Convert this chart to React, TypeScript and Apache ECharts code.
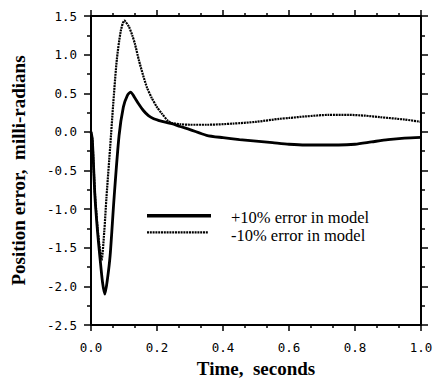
import React, { useEffect, useRef } from "react";
import * as echarts from "echarts";

const seriesNames = ["+10% error in model", "-10% error in model"];

const timesPlus = [0, 0.004, 0.012, 0.02, 0.027, 0.035, 0.042, 0.05, 0.058, 0.07, 0.085, 0.098, 0.11, 0.12, 0.13, 0.143, 0.158, 0.174, 0.19, 0.204, 0.225, 0.245, 0.27, 0.3, 0.35, 0.4, 0.45, 0.5, 0.55, 0.6, 0.65, 0.7, 0.75, 0.8, 0.85, 0.9, 0.95, 1.0];
const valuesPlus = [0, -0.1, -0.84, -1.3, -1.62, -1.95, -2.1, -1.9, -1.6, -0.85, -0.05, 0.32, 0.47, 0.515, 0.46, 0.37, 0.28, 0.21, 0.17, 0.15, 0.125, 0.107, 0.07, 0.03, -0.044, -0.075, -0.1, -0.12, -0.14, -0.16, -0.17, -0.17, -0.17, -0.16, -0.13, -0.1, -0.08, -0.07];

const timesMinus = [0, 0.004, 0.012, 0.02, 0.025, 0.032, 0.04, 0.047, 0.058, 0.068, 0.078, 0.09, 0.101, 0.115, 0.125, 0.133, 0.145, 0.158, 0.17, 0.184, 0.2, 0.214, 0.234, 0.245, 0.27, 0.3, 0.35, 0.43, 0.5, 0.573, 0.6, 0.65, 0.72, 0.78, 0.83, 0.876, 0.95, 1.0];
const valuesMinus = [0, -0.1, -0.8, -1.25, -1.45, -1.66, -1.3, -0.84, -0.2, 0.4, 0.925, 1.3, 1.44, 1.36, 1.25, 1.14, 0.93, 0.73, 0.57, 0.44, 0.32, 0.24, 0.14, 0.115, 0.1, 0.092, 0.092, 0.107, 0.13, 0.17, 0.18, 0.2, 0.22, 0.22, 0.21, 0.19, 0.16, 0.13];

const xTitle = "Time,  seconds";
const yTitle = "Position error,  milli-radians";

const serif = "'Liberation Serif', 'Times New Roman', serif";
const mono = "'DejaVu Sans Mono', 'Liberation Mono', monospace";

function zip(ts: number[], vs: number[]) {
  return ts.map((t, i) => [t, vs[i]]);
}

export default function App() {
  const ref = useRef<HTMLDivElement>(null);
  useEffect(() => {
    if (!ref.current) return;
    const chart = echarts.init(ref.current, undefined, { renderer: "svg" });
    const axisLine = { show: true, onZero: false, lineStyle: { color: "#000", width: 2 } };
    const tickStyle = { color: "#000", width: 1.5 };
    const xCommon = {
      type: "value" as const,
      min: 0,
      max: 1,
      interval: 0.2,
      axisLine,
      axisTick: { show: true, inside: false, length: 6, lineStyle: tickStyle },
      minorTick: { show: true, splitNumber: 3, length: 3, lineStyle: tickStyle },
      splitLine: { show: false },
    };
    const yCommon = {
      type: "value" as const,
      min: -2.5,
      max: 1.5,
      interval: 0.5,
      axisLine,
      axisTick: { show: true, inside: false, length: 7, lineStyle: tickStyle },
      minorTick: { show: true, splitNumber: 2, length: 4, lineStyle: tickStyle },
      splitLine: { show: false },
    };
    const legendText = { fontFamily: serif, fontSize: 16.5, fill: "#000", verticalAlign: "middle", align: "left" };
    chart.setOption({
      animation: false,
      backgroundColor: "#fff",
      grid: { left: 91, right: 15, top: 16, bottom: 58, containLabel: false },
      xAxis: [
        {
          ...xCommon,
          position: "bottom",
          name: xTitle,
          nameLocation: "middle",
          nameGap: 34,
          nameTextStyle: { fontFamily: serif, fontWeight: "bold", fontSize: 19, color: "#000" },
          axisLabel: {
            show: true,
            margin: 16,
            fontFamily: mono,
            fontSize: 12.5,
            color: "#000",
            formatter: (v: number) => v.toFixed(1),
          },
        },
        { ...xCommon, position: "top", axisLabel: { show: false } },
      ],
      yAxis: [
        {
          ...yCommon,
          position: "left",
          name: yTitle,
          nameLocation: "middle",
          nameGap: 63,
          nameRotate: 90,
          nameTextStyle: { fontFamily: serif, fontWeight: "bold", fontSize: 19, color: "#000" },
          axisLabel: {
            show: true,
            margin: 14,
            fontFamily: mono,
            fontSize: 12.5,
            color: "#000",
            formatter: (v: number) => v.toFixed(1),
          },
        },
        { ...yCommon, position: "right", axisLabel: { show: false } },
      ],
      graphic: [
        {
          type: "line",
          shape: { x1: 147, y1: 215.7, x2: 211, y2: 215.7 },
          style: { stroke: "#000", lineWidth: 3.5 },
        },
        {
          type: "line",
          shape: { x1: 147, y1: 232.3, x2: 208, y2: 232.3 },
          style: { stroke: "#000", lineWidth: 2.2, lineDash: [2, 0.8] },
        },
        {
          type: "text",
          x: 231,
          y: 217.5,
          style: { ...legendText, text: seriesNames[0] },
        },
        {
          type: "text",
          x: 231,
          y: 235.5,
          style: { ...legendText, text: seriesNames[1] },
        },
      ],
      series: [
        {
          name: seriesNames[0],
          type: "line",
          data: zip(timesPlus, valuesPlus),
          showSymbol: false,
          symbol: "none",
          smooth: 0.25,
          lineStyle: { color: "#000", width: 2.8, type: "solid" },
          itemStyle: { color: "#000" },
        },
        {
          name: seriesNames[1],
          type: "line",
          data: zip(timesMinus, valuesMinus),
          showSymbol: false,
          symbol: "none",
          smooth: 0.25,
          lineStyle: { color: "#000", width: 2.2, type: [2, 0.8] },
          itemStyle: { color: "#000" },
        },
      ],
    });
    return () => chart.dispose();
  }, []);
  return <div ref={ref} style={{ width: 436, height: 383, position: "absolute", left: 0, top: 0 }} />;
}
